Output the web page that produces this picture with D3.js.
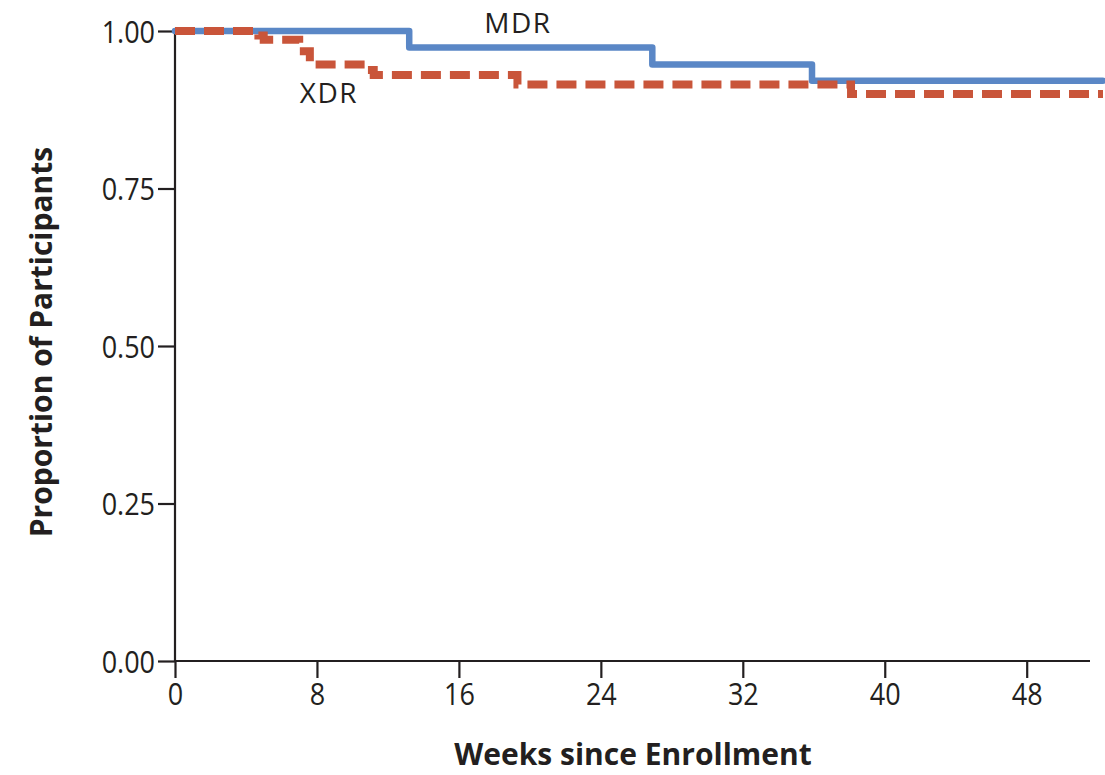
<!DOCTYPE html>
<html>
<head>
<meta charset="utf-8">
<script src="https://cdn.jsdelivr.net/npm/d3@7"></script>
<style>
  body { margin: 0; background: #fff; }
  .tick text { font-family: "Open Sans", sans-serif; font-size: 31px; fill: #231f20; }
  .axis-title { font-family: "Open Sans", "Liberation Sans", sans-serif; font-weight: 700; font-size: 30px; fill: #231f20; }
  .series-label { font-family: "Open Sans", "Liberation Sans", sans-serif; font-size: 28px; fill: #231f20; letter-spacing: 1.5px; }
</style>
</head>
<body>
<div id="chart"></div>
<script>
// weeks since enrollment / proportion still in follow-up
var mdrWeeks = [0, 13.2, 26.9, 35.9, 52.3];
var mdrValues = [1.0, 0.974, 0.947, 0.921, 0.921];

var xdrWeeks = [0, 4.7, 5.0, 7.0, 7.6, 10.8, 11.2, 19.3, 38.1, 52.3];
var xdrValues = [1.0, 0.993, 0.986, 0.968, 0.947, 0.938, 0.930, 0.915, 0.900, 0.900];

var xTicks = [0, 8, 16, 24, 32, 40, 48];
var yTicks = [0, 0.25, 0.5, 0.75, 1.0];

width = 1105;
height = 775;
margin = {top: 31, right: 2, bottom: 114, left: 175};
axisColor = "#231f20";

svg = d3.select("#chart").append("svg")
    .attr("width", width)
    .attr("height", height);

xScale = d3.scaleLinear().domain([0, 52.3]).range([margin.left, 1103]);
yScale = d3.scaleLinear().domain([0, 1]).range([661, margin.top]);

/* Axes */
xAxis = d3.axisBottom(xScale).tickValues(xTicks).tickSize(17).tickPadding(6).tickFormat(d3.format("d"));
yAxis = d3.axisLeft(yScale).tickValues(yTicks).tickSize(17).tickPadding(3).tickFormat(d3.format(".2f"));

gx = svg.append("g")
    .attr("transform", "translate(0,661)")
    .call(xAxis);
gx.select(".domain").remove();
gx.append("line")
    .attr("x1", xScale(0)).attr("x2", 1090)
    .attr("stroke", axisColor).attr("stroke-width", 2.2);

gy = svg.append("g")
    .attr("transform", `translate(${margin.left},0)`)
    .call(yAxis);
gy.select(".domain").remove();
gy.append("line")
    .attr("y1", yScale(1)).attr("y2", yScale(0))
    .attr("stroke", axisColor).attr("stroke-width", 2.2);

svg.selectAll(".tick line").attr("stroke", axisColor).attr("stroke-width", 2.2);
gx.selectAll(".tick text").attr("dy", "0.68em");
gy.selectAll(".tick text").attr("dy", "0.36em");

// squeeze the tick numbers a little, the original uses a condensed face
svg.selectAll(".tick text").each(function () {
    var w = this.getComputedTextLength();
    d3.select(this)
        .attr("textLength", w * 0.87)
        .attr("lengthAdjust", "spacingAndGlyphs");
});

/* Curves */
line = d3.line()
    .x(d => xScale(d[0]))
    .y(d => yScale(d[1]))
    .curve(d3.curveStepAfter);

svg.append("path")
    .datum(d3.zip(mdrWeeks, mdrValues))
    .attr("d", line)
    .attr("fill", "none")
    .attr("stroke", "#5a87c6")
    .attr("stroke-width", 6.5)
    .attr("stroke-linejoin", "round")
    .attr("stroke-linecap", "round");

svg.append("path")
    .datum(d3.zip(xdrWeeks, xdrValues))
    .attr("d", line)
    .attr("fill", "none")
    .attr("stroke", "#c9553a")
    .attr("stroke-width", 8)
    .attr("stroke-dasharray", "20,9");

/* Labels */
svg.append("text")
    .attr("class", "series-label")
    .attr("x", 518).attr("y", 33)
    .attr("text-anchor", "middle")
    .text("MDR");

svg.append("text")
    .attr("class", "series-label")
    .attr("x", 329).attr("y", 103)
    .attr("text-anchor", "middle")
    .text("XDR");

svg.append("text")
    .attr("class", "axis-title")
    .attr("x", 633).attr("y", 765)
    .attr("text-anchor", "middle")
    .text("Weeks since Enrollment");

svg.append("text")
    .attr("class", "axis-title")
    .attr("transform", "translate(52,342) rotate(-90)")
    .attr("text-anchor", "middle")
    .text("Proportion of Participants");
</script>
</body>
</html>
